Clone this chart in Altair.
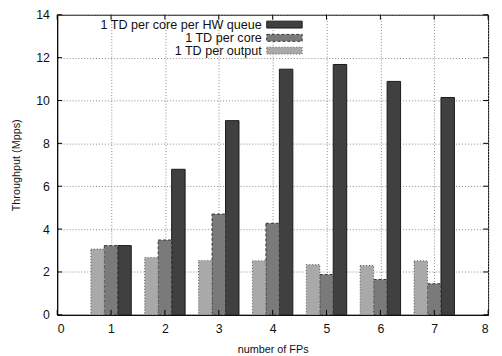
import altair as alt
import pandas as pd

fps = [1, 2, 3, 4, 5, 6, 7]
per_output = [3.07, 2.67, 2.53, 2.52, 2.34, 2.30, 2.52]
per_core = [3.23, 3.49, 4.70, 4.27, 1.88, 1.65, 1.45]
per_hw_queue = [3.23, 6.79, 9.06, 11.46, 11.68, 10.89, 10.14]

series = ["1 TD per core per HW queue", "1 TD per core", "1 TD per output"]
x_ticks = [0, 1, 2, 3, 4, 5, 6, 7, 8]
y_ticks = [0, 2, 4, 6, 8, 10, 12, 14]

W, H = 438, 305
FONT = "Liberation Sans"

rows = []
for i, f in enumerate(fps):
    rows.append({"fp": f, "s": series[2], "v": per_output[i], "k": -1})
    rows.append({"fp": f, "s": series[1], "v": per_core[i], "k": 0})
    rows.append({"fp": f, "s": series[0], "v": per_hw_queue[i], "k": 1})
df = pd.DataFrame(rows)

xs = alt.Scale(domain=[0, 8], nice=False, zero=False)
ys = alt.Scale(domain=[0, 14], nice=False)

base = alt.Chart(df).transform_calculate(
    x0="datum.fp + datum.k*0.25 - 0.125",
    x1="datum.fp + datum.k*0.25 + 0.125",
)

styles = {
    series[0]: dict(fill="#404040", stroke="#1a1a1a", dash=[]),
    series[1]: dict(fill="#7a7a7a", stroke="#333333", dash=[3, 2]),
    series[2]: dict(fill="#a9a9a9", stroke="#555555", dash=[1, 2]),
}

bars = []
for s in series:
    st = styles[s]
    kw = dict(fill=st["fill"], stroke=st["stroke"], strokeWidth=1)
    if st["dash"]:
        kw["strokeDash"] = st["dash"]
    bars.append(
        base.transform_filter(alt.datum.s == s).mark_rect(**kw).encode(
            x=alt.X("x0:Q", scale=xs,
                    axis=alt.Axis(values=x_ticks, title="number of FPs", grid=True,
                                  gridDash=[1, 2], gridColor="#888888", tickSize=0,
                                  labelPadding=8, titlePadding=9, format="d")),
            x2="x1:Q",
            y=alt.Y("v:Q", scale=ys,
                    axis=alt.Axis(values=y_ticks, title="Throughput (Mpps)", grid=True,
                                  gridDash=[1, 2], gridColor="#888888", tickSize=0,
                                  labelPadding=8, titlePadding=14)),
            y2=alt.datum(0),
        )
    )

# inward ticks (gnuplot style, mirrored)
xt = pd.DataFrame({"t": x_ticks})
yt = pd.DataFrame({"t": y_ticks})
tick_bottom = alt.Chart(xt).mark_rule(color="black").encode(
    x=alt.X("t:Q", scale=xs), y=alt.value(H), y2=alt.value(H - 5))
tick_top = alt.Chart(xt).mark_rule(color="black").encode(
    x=alt.X("t:Q", scale=xs), y=alt.value(0), y2=alt.value(5))
tick_left = alt.Chart(yt).mark_rule(color="black").encode(
    y=alt.Y("t:Q", scale=ys), x=alt.value(0), x2=alt.value(5))
tick_right = alt.Chart(yt).mark_rule(color="black").encode(
    y=alt.Y("t:Q", scale=ys), x=alt.value(W), x2=alt.value(W - 5))

# legend (inside top right)
leg_y = [10, 23.5, 36.5]
leg = []
for s, yy in zip(series, leg_y):
    st = styles[s]
    kw = dict(fill=st["fill"], stroke=st["stroke"], strokeWidth=1)
    if st["dash"]:
        kw["strokeDash"] = st["dash"]
    leg.append(alt.Chart(pd.DataFrame({"l": [s]})).mark_rect(**kw).encode(
        x=alt.value(213), x2=alt.value(249), y=alt.value(yy - 3.5), y2=alt.value(yy + 3.5)))
    leg.append(alt.Chart(pd.DataFrame({"l": [s]})).mark_text(
        align="right", baseline="middle", font=FONT, fontSize=12.8, color="#111111").encode(
        x=alt.value(208), y=alt.value(yy + 0.5), text="l:N"))

chart = alt.layer(*bars, tick_bottom, tick_top, tick_left, tick_right, *leg).properties(
    width=W, height=H,
    background="white",
    autosize=alt.AutoSizeParams(type="none"),
    padding={"left": 50, "top": 4, "right": 6, "bottom": 40},
).configure_view(stroke="black", strokeWidth=1).configure_axis(
    domainColor="black", labelFont=FONT, titleFont=FONT, labelFontSize=12.5,
    titleFontSize=11, labelColor="#111111", titleColor="#111111", titleFontWeight="normal",
)

chart.save("out.html", embed_options={"renderer": "svg", "actions": False})
